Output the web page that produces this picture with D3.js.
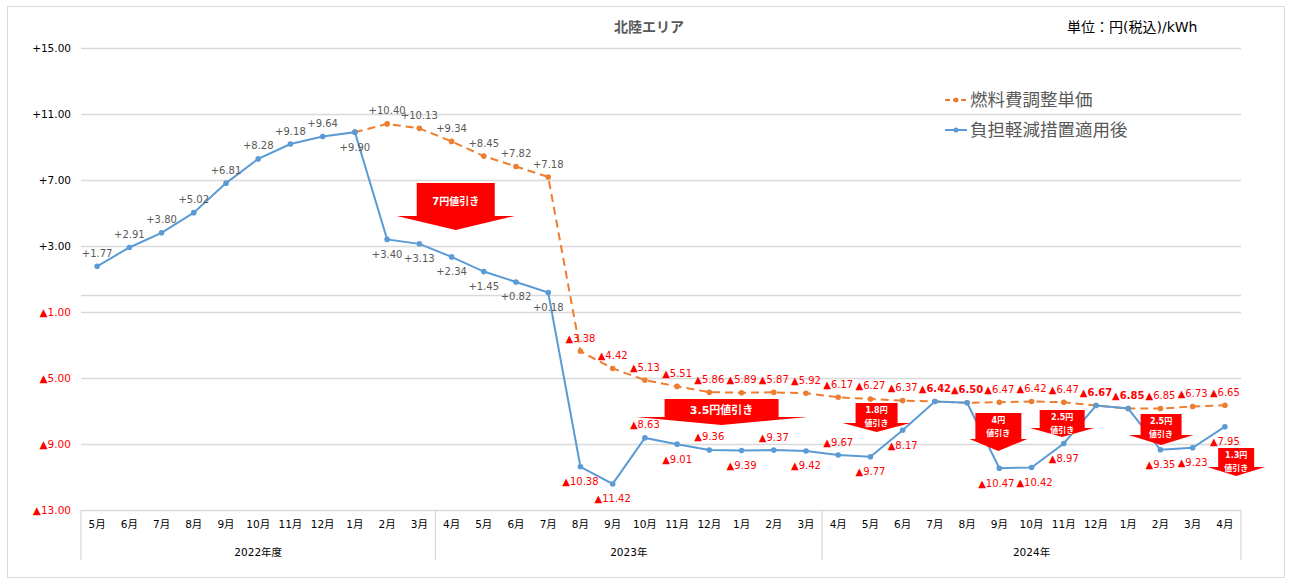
<!DOCTYPE html>
<html>
<head>
<meta charset="utf-8">
<script src="https://cdn.jsdelivr.net/npm/d3@7"></script>
<style>
  body { margin: 0; background: #fff; }
  svg { display: block; }
  text { font-family: "DejaVu Sans", "Noto Sans CJK JP", sans-serif; }
</style>
</head>
<body>
<svg id="chart" width="1292" height="583"></svg>
<script>
// categories (May 2022 .. Apr 2024)
const monthLabels = ['5月','6月','7月','8月','9月','10月','11月','12月','1月','2月','3月',
  '4月','5月','6月','7月','8月','9月','10月','11月','12月','1月','2月','3月',
  '4月','5月','6月','7月','8月','9月','10月','11月','12月','1月','2月','3月','4月'];
const yearGroups = ['2022年度', '2023年', '2024年'];
const yearGroupSizes = [11, 12, 13];

// 負担軽減措置適用後
const afterRelief = [1.77, 2.91, 3.80, 5.02, 6.81, 8.28, 9.18, 9.64, 9.90, 3.40, 3.13,
  2.34, 1.45, 0.82, 0.18, -10.38, -11.42, -8.63, -9.01, -9.36, -9.39, -9.37, -9.42,
  -9.67, -9.77, -8.17, -6.42, -6.50, -10.47, -10.42, -8.97, -6.67, -6.85, -9.35, -9.23, -7.95];
// 燃料費調整単価
const fuelAdj = [null, null, null, null, null, null, null, null, 9.90, 10.40, 10.13,
  9.34, 8.45, 7.82, 7.18, -3.38, -4.42, -5.13, -5.51, -5.86, -5.89, -5.87, -5.92,
  -6.17, -6.27, -6.37, -6.42, -6.50, -6.47, -6.42, -6.47, -6.67, -6.85, -6.85, -6.73, -6.65];

const yTicks = [15, 11, 7, 3, -1, -5, -9, -13];

// discount callouts: text, category position, value at top and at the tip
const discounts = [
  { lines: ['7円値引き'], at: 11.13, top: 6.82, tip: 3.97 },
  { lines: ['3.5円値引き'], at: 19.38, top: -6.27, tip: -7.85 },
  { lines: ['1.8円', '値引き'], at: 24.19, top: -6.52, tip: -8.27 },
  { lines: ['4円', '値引き'], at: 27.97, top: -7.12, tip: -9.42 },
  { lines: ['2.5円', '値引き'], at: 29.95, top: -6.94, tip: -8.58 },
  { lines: ['2.5円', '値引き'], at: 33.02, top: -7.18, tip: -9.06 },
  { lines: ['1.3円', '値引き'], at: 35.35, top: -9.24, tip: -10.94 }
];
// callout shape sizes (px): body width, head width, head height, font size
const calloutStyle = [
  [78, 118, 14, 10], [114, 172, 8, 11], [42, 68, 9, 8], [46, 58, 12, 8],
  [45, 64, 9, 8], [41, 65, 10, 8], [36, 58, 9, 8]
];

// label placement for each point (a = above, b = below, - = none)
const blueLabelPos = ('aaaaaaaa' + 'bbbbbbbbb' + 'abababab' + 'b' + '--' + 'bbb' + '--' + 'bbb').split('');
const blueLabelShift = { 28: -3, 29: 3 };
const boldOrange = [26, 27, 31, 32];

const blue = '#5b9bd5', orange = '#ed7d31', red = '#ff0000', gray = '#595959', grid = '#d9d9d9';

const svg = d3.select('#chart');
const plotL = 81, plotR = 1241, plotT = 48, plotB = 510;

svg.append('rect')
  .attr('x', 7.5).attr('y', 6.5).attr('width', 1277).attr('height', 571)
  .attr('fill', '#fff').attr('stroke', grid);

const x = d3.scaleBand().domain(d3.range(monthLabels.length)).range([plotL, plotR]);
const cx = i => x(i) + x.bandwidth() / 2;
const xAt = p => plotL + (p + 0.5) * x.bandwidth();
const y = d3.scaleLinear().domain([-13, 15]).range([plotB, plotT]);

const fmt = v => (v >= 0 ? '+' : '▲') + Math.abs(v).toFixed(2);

// y axis + gridlines
const yAxis = svg.append('g')
  .attr('transform', `translate(${plotL},0)`)
  .call(d3.axisLeft(y).tickValues(yTicks).tickSize(-(plotR - plotL)).tickPadding(10).tickFormat(fmt));
yAxis.select('.domain').remove();
yAxis.selectAll('.tick line').attr('stroke', grid).attr('stroke-width', 1.3);
yAxis.selectAll('.tick text')
  .attr('font-size', 10.5)
  .attr('fill', d => d < 0 ? red : '#000');

// zero line
svg.append('line')
  .attr('x1', plotL).attr('x2', plotR).attr('y1', y(0)).attr('y2', y(0))
  .attr('stroke', grid).attr('stroke-width', 1.3);

// x axis: months
const xAxis = svg.append('g')
  .attr('transform', `translate(0,${plotB})`)
  .call(d3.axisBottom(x).tickSize(0).tickPadding(11).tickFormat(i => monthLabels[i]));
xAxis.select('.domain').remove();
xAxis.selectAll('.tick text').attr('font-size', 10.5).attr('fill', '#000');

// year groups + separators
let start = 0;
const seps = [0];
yearGroups.forEach((g, k) => {
  const end = start + yearGroupSizes[k];
  svg.append('text')
    .attr('x', (x(start) + x(end - 1) + x.bandwidth()) / 2)
    .attr('y', 552).attr('dy', '0.35em')
    .attr('text-anchor', 'middle').attr('font-size', 10.5)
    .text(g);
  seps.push(end);
  start = end;
});
svg.selectAll('line.sep').data(seps).enter().append('line')
  .attr('class', 'sep')
  .attr('x1', i => plotL + i * x.bandwidth()).attr('x2', i => plotL + i * x.bandwidth())
  .attr('y1', plotB).attr('y2', 560)
  .attr('stroke', grid).attr('stroke-width', 1.3);

// series
const line = d3.line().defined(d => d != null).x((d, i) => cx(i)).y(d => y(d));

svg.append('path').datum(fuelAdj)
  .attr('d', line).attr('fill', 'none')
  .attr('stroke', orange).attr('stroke-width', 2).attr('stroke-dasharray', '8,5');
svg.selectAll('circle.o').data(fuelAdj.map((v, i) => ({ v, i })).filter(d => d.v != null))
  .enter().append('circle').attr('class', 'o')
  .attr('cx', d => cx(d.i)).attr('cy', d => y(d.v)).attr('r', 2.8).attr('fill', orange);

svg.append('path').datum(afterRelief)
  .attr('d', line).attr('fill', 'none')
  .attr('stroke', blue).attr('stroke-width', 2);
svg.selectAll('circle.b').data(afterRelief.map((v, i) => ({ v, i })))
  .enter().append('circle').attr('class', 'b')
  .attr('cx', d => cx(d.i)).attr('cy', d => y(d.v)).attr('r', 2.8).attr('fill', blue);

// data labels
svg.selectAll('text.ol').data(fuelAdj.map((v, i) => ({ v, i })).filter(d => d.v != null && d.i > 8))
  .enter().append('text').attr('class', 'ol')
  .attr('x', d => cx(d.i)).attr('y', d => y(d.v) - 13).attr('dy', '0.35em')
  .attr('text-anchor', 'middle').attr('font-size', 10)
  .attr('font-weight', d => boldOrange.includes(d.i) ? 'bold' : 'normal')
  .attr('fill', d => d.v < 0 ? red : gray)
  .text(d => fmt(d.v));

svg.selectAll('text.bl').data(afterRelief.map((v, i) => ({ v, i })).filter(d => blueLabelPos[d.i] !== '-'))
  .enter().append('text').attr('class', 'bl')
  .attr('x', d => cx(d.i) + (blueLabelShift[d.i] || 0))
  .attr('y', d => y(d.v) + (blueLabelPos[d.i] === 'a' ? -13 : 15)).attr('dy', '0.35em')
  .attr('text-anchor', 'middle').attr('font-size', 10)
  .attr('fill', d => d.v < 0 ? red : gray)
  .text(d => fmt(d.v));

// discount arrows
discounts.forEach((d, k) => {
  const [bw, hw, hh, fs] = calloutStyle[k];
  const mx = xAt(d.at), t = y(d.top), tip = y(d.tip), w = tip - hh;
  const pts = [[mx - bw / 2, t], [mx + bw / 2, t], [mx + bw / 2, w], [mx + hw / 2, w],
    [mx, tip], [mx - hw / 2, w], [mx - bw / 2, w]];
  svg.append('path').attr('d', d3.line()(pts) + 'Z').attr('fill', red);
  const n = d.lines.length;
  d.lines.forEach((s, j) => {
    svg.append('text')
      .attr('x', mx)
      .attr('y', n === 1 ? (t + w) / 2 + 2 : t + 7 + j * 13)
      .attr('dy', '0.35em').attr('text-anchor', 'middle')
      .attr('font-size', fs).attr('font-weight', 'bold').attr('fill', '#fff')
      .attr('font-family', '"Noto Sans CJK JP", sans-serif')
      .text(s);
  });
});

// title, unit
svg.append('text').attr('x', 649).attr('y', 27).attr('dy', '0.35em')
  .attr('text-anchor', 'middle').attr('font-size', 14).attr('font-weight', 'bold')
  .attr('fill', gray).attr('font-family', '"Noto Sans CJK JP", sans-serif')
  .text('北陸エリア');
svg.append('text').attr('x', 1067).attr('y', 27).attr('dy', '0.35em')
  .attr('font-size', 14).attr('fill', '#000')
  .attr('font-family', '"Noto Sans CJK JP", sans-serif')
  .text('単位：円(税込)/kWh');

// legend
const legend = [
  { name: '燃料費調整単価', color: orange, dash: '5,3' },
  { name: '負担軽減措置適用後', color: blue, dash: null }
];
legend.forEach((l, k) => {
  const ly = 100 + k * 30;
  svg.append('line').attr('x1', 945).attr('x2', 967).attr('y1', ly).attr('y2', ly)
    .attr('stroke', l.color).attr('stroke-width', 2)
    .attr('stroke-dasharray', l.dash);
  svg.append('circle').attr('cx', 956).attr('cy', ly).attr('r', 2.5).attr('fill', l.color);
  svg.append('text').attr('x', 970).attr('y', ly).attr('dy', '0.35em')
    .attr('font-size', 17.5).attr('fill', gray)
    .attr('font-family', '"Noto Sans CJK JP", sans-serif')
    .text(l.name);
});
</script>
</body>
</html>
